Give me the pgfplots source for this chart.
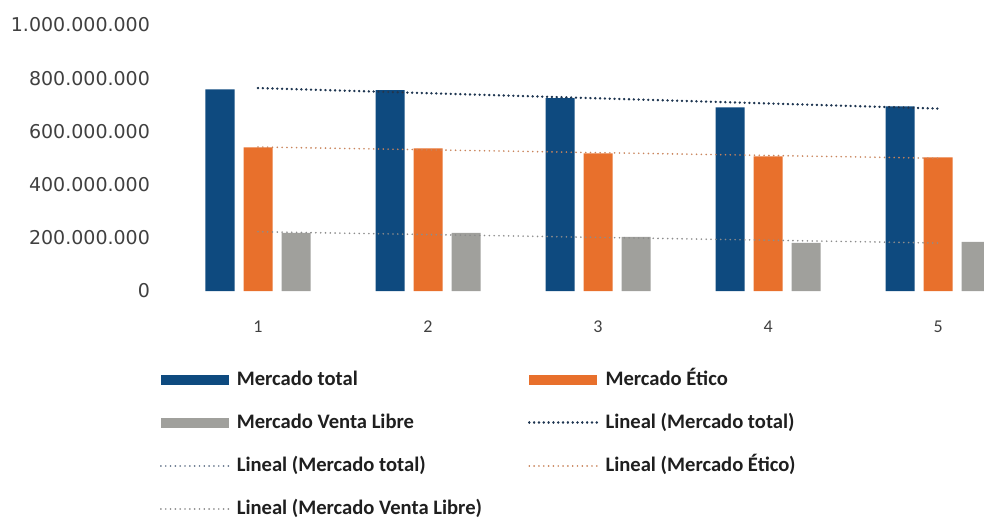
\documentclass[border=0pt]{standalone}
\usepackage{pgfplots}
\pgfplotsset{compat=1.18}
\usepackage{fontspec}
\setmainfont{Carlito}
\newfontfamily\dejavu{DejaVu Sans}
\definecolor{cblue}{HTML}{0E4A7F}
\definecolor{corange}{HTML}{E8702C}
\definecolor{cgray}{HTML}{A0A09C}
\definecolor{tblue}{HTML}{1E3550}
\definecolor{torange}{HTML}{C9845C}
\definecolor{tgray}{HTML}{8C8C8C}
\definecolor{ttotal2}{HTML}{66768C}
\definecolor{lbl}{HTML}{404040}
\begin{document}
\begin{tikzpicture}
\begin{axis}[
  scale only axis, width=405.5pt, height=133pt,
  xmin=0.5, xmax=5.27, ymin=0, ymax=1000,
  axis line style={draw=none},
  tick style={draw=none},
  /pgf/number format/assume math mode=true,
  xtick={1,2,3,4,5},
  ytick={0,200,400,600,800,1000},
  yticklabels={0,200.000.000,400.000.000,600.000.000,800.000.000,1.000.000.000},
  yticklabel style={font=\dejavu\fontsize{9.5}{11}\selectfont, text=lbl, xshift=-8pt},
  xticklabel style={font=\fontsize{9}{10}\selectfont, text=lbl, yshift=-11.5pt},
  legend columns=2,
  legend cell align=left,
  legend image code/.code={\draw[#1] (0pt,0pt) -- (34pt,0pt);},
  legend style={at={(axis description cs:-0.016,-0.298)}, anchor=north west,
    draw=none, fill=none, inner sep=0pt, outer sep=0pt,
    font=\bfseries\fontsize{10.3}{12}\selectfont, text=black!88,
    row sep=12pt,
    nodes={inner sep=0pt, text height=7.5pt, text depth=2pt},
    /tikz/every odd column/.append style={column sep=3.5pt},
    /tikz/every even column/.append style={column sep=23pt}},
]
\addplot[ybar, bar width=14.5pt, bar shift=-19pt, fill=cblue, draw=none,
  legend image code/.code={\fill[cblue] (0pt,-2.6pt) rectangle (34pt,2.6pt);}]
  coordinates {(1,758) (2,755) (3,725) (4,690) (5,694)};
\addlegendentry{Mercado total}
\addplot[ybar, bar width=14.5pt, bar shift=0pt, fill=corange, draw=none,
  legend image code/.code={\fill[corange] (0pt,-2.6pt) rectangle (34pt,2.6pt);}]
  coordinates {(1,540) (2,536) (3,517) (4,506) (5,502)};
\addlegendentry{Mercado Ético}
\addplot[ybar, bar width=14.5pt, bar shift=19pt, fill=cgray, draw=none,
  legend image code/.code={\fill[cgray] (0pt,-2.6pt) rectangle (34pt,2.6pt);}]
  coordinates {(1,219) (2,219) (3,204) (4,181) (5,185)};
\addlegendentry{Mercado Venta Libre}
% duplicate trend line (second legend entry), drawn underneath
\addplot[forget plot, ttotal2, line width=0.9pt, line cap=round, dash pattern=on 0.01pt off 2.4pt]
  coordinates {(1,763.0) (5,685.8)};
\addplot[tblue, line width=1.3pt, line cap=round, dash pattern=on 0.01pt off 2.4pt]
  coordinates {(1,763.0) (5,685.8)};
\addlegendentry{Lineal (Mercado total)}
\addlegendimage{ttotal2, line width=0.9pt, line cap=round, dash pattern=on 0.01pt off 2.4pt}
\addlegendentry{Lineal (Mercado total)}
\addplot[torange, line width=0.9pt, line cap=round, dash pattern=on 0.01pt off 2.4pt]
  coordinates {(1,541.4) (5,499.0)};
\addlegendentry{Lineal (Mercado Ético)}
\addplot[tgray, line width=0.9pt, line cap=round, dash pattern=on 0.01pt off 2.4pt]
  coordinates {(1,222.8) (5,180.4)};
\addlegendentry{Lineal (Mercado Venta Libre)}
\coordinate (bbtl) at (axis description cs:-0.2133,1.094);
\coordinate (bbbr) at (axis description cs:1.0,-0.868);
\end{axis}
\path (bbtl) rectangle (bbbr);
\end{tikzpicture}
\end{document}
